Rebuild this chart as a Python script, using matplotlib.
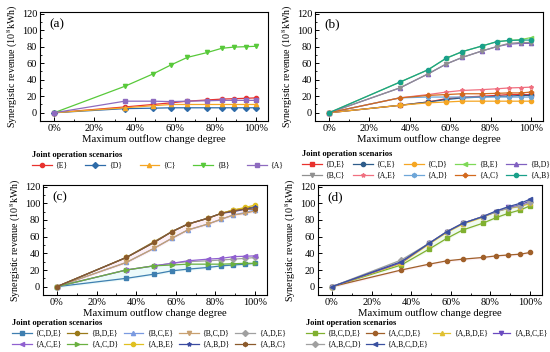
import matplotlib
matplotlib.use('Agg')
from matplotlib import pyplot as plt
from matplotlib.ticker import MultipleLocator
import numpy as np

plt.rcParams['font.family'] = ['Liberation Serif', 'DejaVu Serif']
plt.rcParams['mathtext.fontset'] = 'stix'

# maximum outflow change degree (%)
X = [0, 35, 49, 58, 66, 76, 83, 89, 95, 100]

# (a) single reservoirs
A_LABELS = ['{E}', '{D}', '{C}', '{B}', '{A}']
A_VALUES = [
    [0, 7, 10, 12, 14, 15.5, 16.5, 17, 17.5, 18],
    [0, 5, 5.5, 6, 6, 6, 6, 6, 6, 6],
    [0, 6, 8.5, 10, 10, 10, 10, 10, 10, 10],
    [0, 32, 47, 58, 67, 73, 78, 79.5, 80, 80.5],
    [0, 14, 14, 13.5, 14, 14.5, 15, 15, 15, 15],
]
A_COLORS = ['#e8322e', '#2e6ba8', '#f5a623', '#58c93a', '#8e6bbf']
A_MARKERS = ['o', 'D', '^', 'v', 's']

# (b) pairs
B_LABELS = ['{D,E}', '{C,E}', '{C,D}', '{B,E}', '{B,D}',
            '{B,C}', '{A,E}', '{A,D}', '{A,C}', '{A,B}']
B_VALUES = [
    [0, 9, 13, 17, 19, 20, 21, 22, 22, 22],
    [0, 9, 13, 16, 18, 19, 20, 20, 21, 21],
    [0, 9, 12, 13, 14, 14, 14, 14, 14, 14],
    [0, 37, 52, 66, 74, 81, 86, 87.5, 88.5, 91],
    [0, 30, 47, 59, 67, 75, 80, 83, 84, 84],
    [0, 30, 47, 59, 67, 75, 80, 84, 85, 85],
    [0, 18, 22, 25, 27, 28, 29, 30, 30.5, 31],
    [0, 18, 19, 19, 19, 19, 19, 19, 19, 19],
    [0, 18, 21, 22, 23, 23, 23.5, 24, 24, 25],
    [0, 37, 52, 66, 74, 81, 86, 87.5, 88, 88],
]
B_COLORS = ['#e8322e', '#2e5c8a', '#f5a623', '#7ed957', '#8060c0',
            '#909090', '#f07080', '#6ea6d8', '#d2691e', '#1aa08a']
B_MARKERS = ['s', 'o', 'o', '<', '^', 'v', '*', 'h', 'P', 'o']

# (c) triples
C_LABELS = ['{C,D,E}', '{B,D,E}', '{B,C,E}', '{B,C,D}', '{A,D,E}',
            '{A,C,E}', '{A,C,D}', '{A,B,E}', '{A,B,D}', '{A,B,C}']
C_VALUES = [
    [0, 10, 15, 19, 21, 23, 25, 26, 27, 28],
    [0, 35, 54, 66, 75, 82, 88, 92, 94, 96],
    [0, 29, 46, 58, 68, 75, 81, 86, 89, 92],
    [0, 29, 46, 58, 68, 75, 81, 86, 88, 91],
    [0, 20, 25, 28, 30, 31, 32, 33, 34, 35],
    [0, 20, 25, 28, 31, 33, 34, 36, 36.5, 37],
    [0, 20, 25, 26, 27, 27, 27, 27.5, 28, 28],
    [0, 35, 53, 66, 75, 82, 88, 92, 95, 98],
    [0, 35, 53, 66, 75, 82, 88, 90, 93, 95],
    [0, 35, 53, 66, 75, 82, 88, 91, 93, 93],
]
C_COLORS = ['#3f7fb0', '#9a7a1a', '#7a9ae0', '#c8a070', '#a0a0a0',
            '#9060d0', '#6ab040', '#e0c020', '#3a4aa0', '#8b5a2b']
C_MARKERS = ['s', 'o', '^', 'v', 'D', '<', '>', 'o', '*', 'h']

# (d) four and five reservoirs
D_LABELS = ['{B,C,D,E}', '{A,C,D,E}', '{A,B,D,E}', '{A,B,C,E}',
            '{A,B,C,D}', '{A,B,C,D,E}']
D_VALUES = [
    [0, 26, 45, 58, 68, 76, 83, 88, 92, 97],
    [0, 20, 27, 31, 33, 35, 37, 38, 39, 41],
    [0, 28, 51, 65, 75, 83, 90, 94, 96, 100],
    [0, 29, 52, 66, 76, 84, 90, 95, 98, 103],
    [0, 32, 52, 66, 76, 84, 90, 94, 97, 101],
    [0, 30, 52, 66, 76, 84, 91, 96, 100, 105],
]
D_COLORS = ['#80b030', '#a0602a', '#e0c030', '#6a4ac0', '#a0a0a0', '#3a50a0']
D_MARKERS = ['s', 'o', '^', 'v', 'D', '<']

W, H = 550, 352


def draw_panel(ax, tag, labels, values, colors, markers, bands=None):
    if bands:
        for idx, color in bands:
            arr = np.array([values[i] for i in idx])
            ax.fill_between(X, arr.min(axis=0) - 1.5, arr.max(axis=0) + 1.5,
                            color=color, alpha=0.2, lw=0)
    for lab, val, col, mk in zip(labels, values, colors, markers):
        ax.plot(X, val, color=col, marker=mk, markersize=3, lw=0.9,
                label=lab)
    ax.set_xlim(-7, 106)
    ax.set_ylim(-10, 122)
    ax.set_xticks(range(0, 101, 20))
    ax.set_xticklabels(['%d%%' % v for v in range(0, 101, 20)])
    ax.set_yticks(range(0, 121, 20))
    ax.xaxis.set_minor_locator(MultipleLocator(10))
    ax.yaxis.set_minor_locator(MultipleLocator(10))
    ax.tick_params(labelsize=7.5, direction='in', length=3, width=0.7,
                   pad=2)
    ax.tick_params(which='minor', direction='in', length=1.5, width=0.6)
    ax.set_xlabel('Maximum outflow change degree', fontsize=7.7, labelpad=1)
    ax.set_ylabel('Synergistic revenue (10$^{8}$kWh)', fontsize=7.2,
                  labelpad=1)
    ax.text(0.04, 0.94, tag, transform=ax.transAxes, fontsize=9.5, va='top')
    for sp in ax.spines.values():
        sp.set_linewidth(0.8)


def add_legend(fig, ax, ncol, x_px, y_px, colspace, hlen=2.6):
    handles, labels = ax.get_legend_handles_labels()
    # matplotlib fills columns first, reorder so rows read left to right
    n = len(handles)
    nrow = -(-n // ncol)
    order = [r * ncol + c for c in range(ncol) for r in range(nrow)
             if r * ncol + c < n]
    leg = fig.legend([handles[i] for i in order], [labels[i] for i in order],
                     loc='upper left', bbox_to_anchor=(x_px / W, 1 - y_px / H),
                     ncol=ncol, frameon=False, fontsize=5.5,
                     handlelength=hlen, handletextpad=0.5,
                     columnspacing=colspace, labelspacing=0.35, borderpad=0,
                     borderaxespad=0, title='Joint operation scenarios',
                     title_fontproperties={'weight': 'bold', 'size': 6})
    leg._legend_box.align = 'left'


fig = plt.figure(figsize=(W / 100, H / 100), dpi=100)
ax_a = fig.add_axes([40 / W, 1 - 121 / H, 228 / W, 109 / H])
ax_b = fig.add_axes([315 / W, 1 - 121 / H, 228 / W, 109 / H])
ax_c = fig.add_axes([43 / W, 1 - 295 / H, 224 / W, 110 / H])
ax_d = fig.add_axes([318 / W, 1 - 295 / H, 224 / W, 110 / H])

draw_panel(ax_a, '(a)', A_LABELS, A_VALUES, A_COLORS, A_MARKERS)
draw_panel(ax_b, '(b)', B_LABELS, B_VALUES, B_COLORS, B_MARKERS)
draw_panel(ax_c, '(c)', C_LABELS, C_VALUES, C_COLORS, C_MARKERS,
           bands=[([1, 2, 3, 7, 8, 9], '#f7b6d2'), ([0, 6], '#9ee6e6')])
draw_panel(ax_d, '(d)', D_LABELS, D_VALUES, D_COLORS, D_MARKERS,
           bands=[([1], '#f7b6d2'), ([0, 2, 3, 4, 5], '#b6e6b6')])

add_legend(fig, ax_a, 5, 32, 151, 2.3)
add_legend(fig, ax_b, 5, 302, 150, 1.0)
add_legend(fig, ax_c, 5, 12, 319, 0.7)
add_legend(fig, ax_d, 4, 306, 319, 0.6, hlen=2.3)

fig.savefig('out.png', dpi=100)
